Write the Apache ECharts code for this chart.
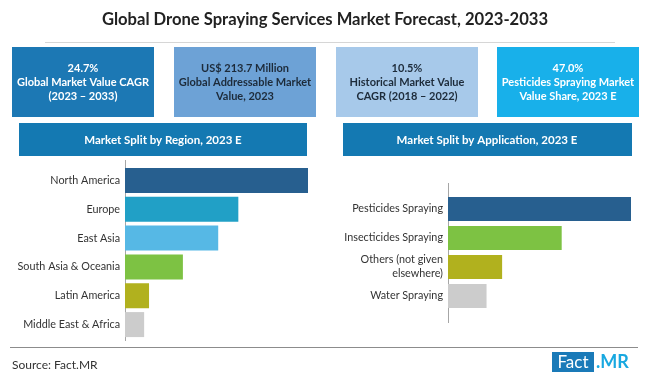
<!DOCTYPE html>
<html><head><meta charset="utf-8">
<script src="https://cdn.jsdelivr.net/npm/echarts@6/dist/echarts.min.js"></script>
<style>html,body{margin:0;padding:0;background:#fff}#c{width:650px;height:381px}</style>
</head><body><div id="c"></div>
<script>
var regionCategories = ['North America','Europe','East Asia','South Asia & Oceania','Latin America','Middle East & Africa'];
var regionValues = [37.3, 23.1, 19.0, 11.8, 4.9, 3.9];
var regionColors = ['#275f8f','#21a0c6','#56b8e5','#7dc243','#b1b11e','#cccccc'];
var appCategories = ['Pesticides Spraying','Insecticides Spraying','Others (not given\nelsewhere)','Water Spraying'];
var appValues = [47.0, 29.2, 13.9, 9.9];
var appColors = ['#275f8f','#7dc243','#b1b11e','#cccccc'];
var kpiTexts = ['24.7%\nGlobal Market Value CAGR\n(2023 \u2013 2033)','US$ 213.7 Million\nGlobal Addressable Market\nValue, 2023','10.5%\nHistorical Market Value\nCAGR (2018 \u2013 2022)','47.0%\nPesticides Spraying Market\nValue Share, 2023 E'];
var titleText = 'Global Drone Spraying Services Market Forecast, 2023-2033';
var regionHeader = 'Market Split by Region, 2023 E';
var appHeader = 'Market Split by Application, 2023 E';

var FONT = 'Lato, "Liberation Sans", sans-serif';
var chart = echarts.init(document.getElementById('c'), null, {renderer:'canvas'});
var kpiBoxes = [
  {x:12, fill:'#1c78b4', color:'#ffffff'},
  {x:174, fill:'#6da2d6', color:'#1d2b3a'},
  {x:336, fill:'#a7c9ea', color:'#1d2b3a'},
  {x:497, fill:'#18b0ea', color:'#ffffff'}
];
var graphics = [];
graphics.push({type:'text', left:'center', top:11, style:{text:titleText, font:'bold 16.6px '+FONT, fill:'#222'}});
graphics.push({type:'line', shape:{x1:45,y1:42.5,x2:615,y2:42.5}, style:{stroke:'#d6d6d6', lineWidth:1}});
kpiBoxes.forEach(function(b,i){
  graphics.push({type:'rect', shape:{x:b.x,y:47,width:142,height:70}, style:{fill:b.fill}});
  graphics.push({type:'text', x:b.x+71, y:82, style:{text:kpiTexts[i], font:'bold 11px '+FONT, fill:b.color, align:'center', verticalAlign:'middle', lineHeight:14}});
});
graphics.push({type:'rect', shape:{x:19,y:123,width:288,height:33}, style:{fill:'#1479b2'}});
graphics.push({type:'text', x:163, y:140, style:{text:regionHeader, font:'bold 11.5px '+FONT, fill:'#fff', align:'center', verticalAlign:'middle'}});
graphics.push({type:'rect', shape:{x:343,y:123,width:289,height:33}, style:{fill:'#1479b2'}});
graphics.push({type:'text', x:487, y:140, style:{text:appHeader, font:'bold 11.5px '+FONT, fill:'#fff', align:'center', verticalAlign:'middle'}});
graphics.push({type:'line', shape:{x1:125.5,y1:160,x2:125.5,y2:341}, style:{stroke:'#a6a6a6', lineWidth:1}});
graphics.push({type:'line', shape:{x1:448.5,y1:183,x2:448.5,y2:323}, style:{stroke:'#a6a6a6', lineWidth:1}});
graphics.push({type:'line', shape:{x1:10,y1:347.5,x2:638,y2:347.5}, style:{stroke:'#8c8c8c', lineWidth:1}});
graphics.push({type:'text', x:12, y:365, style:{text:'Source: Fact.MR', font:'12px '+FONT, fill:'#333', verticalAlign:'middle'}});
graphics.push({type:'rect', shape:{x:552,y:352,width:42,height:20}, style:{fill:'#1a7ab8'}});
graphics.push({type:'text', x:573, y:362.5, style:{text:'Fact', font:'17px '+FONT, fill:'#fff', align:'center', verticalAlign:'middle'}});
graphics.push({type:'text', x:596, y:362.5, style:{text:'.MR', font:'bold 18px '+FONT, fill:'#18a8e0', verticalAlign:'middle'}});

chart.setOption({
  animation:false,
  backgroundColor:'#ffffff',
  grid:[
    {left:125, top:166, width:183*40/37.3, height:173},
    {left:448, top:194.5, width:183*50/47, height:116}
  ],
  xAxis:[
    {gridIndex:0, type:'value', min:0, max:40, show:false},
    {gridIndex:1, type:'value', min:0, max:50, show:false}
  ],
  yAxis:[
    {gridIndex:0, type:'category', data:regionCategories, inverse:true, axisLine:{show:false}, axisTick:{show:false},
     axisLabel:{fontSize:10.8, color:'#333', margin:5, fontFamily:FONT}},
    {gridIndex:1, type:'category', data:appCategories, inverse:true, axisLine:{show:false}, axisTick:{show:false},
     axisLabel:{fontSize:10.8, color:'#333', margin:5, fontFamily:FONT, lineHeight:14}}
  ],
  series:[
    {type:'bar', xAxisIndex:0, yAxisIndex:0, barWidth:25,
     data:regionValues.map(function(v,i){return {value:v, itemStyle:{color:regionColors[i]}};})},
    {type:'bar', xAxisIndex:1, yAxisIndex:1, barWidth:24,
     data:appValues.map(function(v,i){return {value:v, itemStyle:{color:appColors[i]}};})}
  ],
  graphic:graphics
});
</script></body></html>
